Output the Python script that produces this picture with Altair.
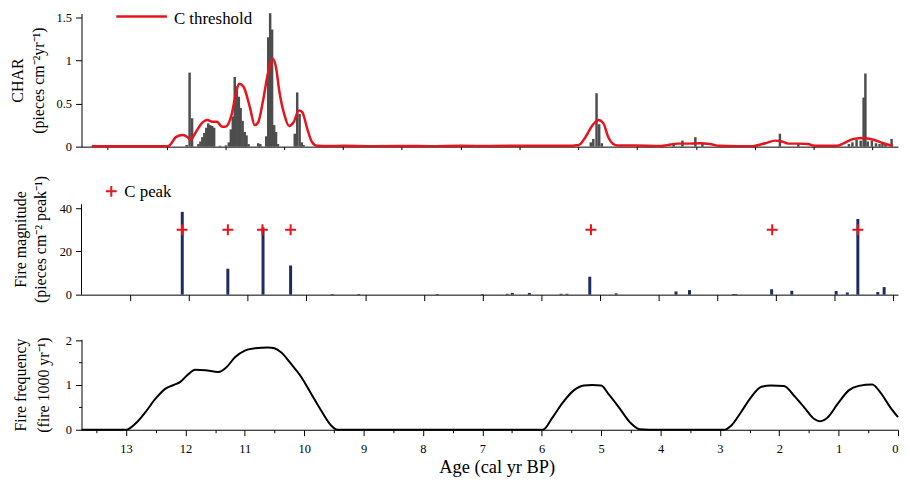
import altair as alt
import pandas as pd

FONT = "Liberation Serif"
RED = "#e6141c"
GRAY = "#4d4d4d"
NAVY = "#1d2b62"

# ---- top panel: CHAR (bars) and threshold (line) ----
char_age = [12.157, 12.107, 12.065, 11.957, 11.923, 11.89, 11.857, 11.823, 11.79, 11.756, 11.723, 11.69,
            11.59, 11.49, 11.44, 11.406, 11.373, 11.34, 11.306, 11.27, 11.24, 11.206, 11.17, 11.14, 11.105,
            10.94, 10.905, 10.805, 10.77, 10.738, 10.705, 10.67, 10.638, 10.605, 10.32, 10.278, 10.237, 10.2,
            10.17, 6.7, 6.21, 5.287, 5.245, 5.19, 5.145, 5.10, 3.88, 3.73, 3.51, 3.39, 2.073, 1.76, 0.9, 0.84,
            0.77, 0.7, 0.65, 0.62, 0.58, 0.51, 0.44, 0.38, 0.33, 0.28, 0.175]
char_val = [0.02, 0.86, 0.33, 0.03, 0.06, 0.11, 0.16, 0.22, 0.27, 0.25, 0.24, 0.22,
            0.01, 0.015, 0.05, 0.2, 0.35, 0.81, 0.70, 0.58, 0.45, 0.30, 0.17, 0.13, 0.03,
            0.04, 0.03, 0.12, 1.27, 1.55, 1.36, 0.25, 0.17, 0.03, 0.15, 0.63, 0.38, 0.05,
            0.02, 0.01, 0.012, 0.05, 0.09, 0.62, 0.26, 0.04, 0.03, 0.07, 0.11, 0.05, 0.15, 0.04, 0.03, 0.05,
            0.08, 0.07, 0.57, 0.85, 0.06, 0.07, 0.04, 0.03, 0.05, 0.03, 0.09]

thr_age = [13.77, 13.3, 12.9, 12.6, 12.474, 12.44, 12.34, 12.224, 12.14, 12.09, 12.0, 11.89, 11.806, 11.72,
           11.64, 11.556, 11.50, 11.39, 11.334, 11.267, 11.194, 11.083, 11.0, 10.943, 10.86, 10.776, 10.693,
           10.638, 10.583, 10.5, 10.416, 10.342, 10.249, 10.192, 10.108, 10.025, 9.94, 9.72, 9.5, 9.0, 8.5,
           8.0, 7.5, 7.0, 6.5, 6.0, 5.7, 5.49, 5.379, 5.267, 5.157, 5.073, 4.99, 4.907, 4.83, 4.544, 4.1,
           3.93, 3.82, 3.66, 3.43, 3.264, 3.1, 2.8, 2.54, 2.32, 2.152, 2.04, 1.93, 1.76, 1.595, 1.49, 1.094,
           0.983, 0.816, 0.65, 0.483, 0.316, 0.154]
thr_val = [0.005, 0.005, 0.005, 0.005, 0.006, 0.02, 0.11, 0.135, 0.11, 0.08, 0.17, 0.28, 0.31, 0.29,
           0.29, 0.23, 0.23, 0.38, 0.57, 0.73, 0.70, 0.46, 0.25, 0.28, 0.53, 0.85, 1.02,
           0.92, 0.65, 0.38, 0.24, 0.28, 0.42, 0.40, 0.21, 0.05, 0.01, 0.008, 0.01, 0.006, 0.008,
           0.006, 0.01, 0.008, 0.01, 0.01, 0.01, 0.02, 0.11, 0.24, 0.31, 0.27, 0.11, 0.03, 0.012, 0.012, 0.008,
           0.025, 0.035, 0.035, 0.04, 0.03, 0.01, 0.006, 0.006, 0.04, 0.07, 0.06, 0.035, 0.035, 0.03, 0.01, 0.01,
           0.04, 0.09, 0.10, 0.08, 0.04, 0.01]

# ---- middle panel: fire magnitude (bars) and peaks (+) ----
mag_age = [12.117, 11.34, 10.74, 10.27, 9.56, 9.11, 7.77, 7.0, 6.575, 6.49, 6.2, 5.66, 5.56, 5.17, 4.72,
           3.7, 3.47, 2.72, 2.68, 2.07, 1.726, 0.97, 0.78, 0.6, 0.26, 0.152]
mag_val = [38.3, 12.0, 31.1, 13.5, 0.3, 0.3, 0.3, 0.3, 0.4, 0.8, 0.8, 0.4, 0.4, 8.3, 0.6,
           1.5, 2.1, 0.3, 0.3, 2.5, 1.8, 1.7, 1.0, 35.0, 1.2, 3.5]
peak_age = [12.12, 11.34, 10.75, 10.27, 5.15, 2.06, 0.6]
peak_val = [30, 30, 30, 30, 30, 30, 30]

# ---- bottom panel: fire frequency ----
freq_age = [13.75, 13.3, 13.0, 12.84, 12.67, 12.5, 12.336, 12.2, 12.085, 11.975, 11.834, 11.667, 11.445,
            11.306, 11.166, 11.0, 10.83, 10.61, 10.5, 10.39, 10.22, 10.05, 9.885, 9.72, 9.55, 9.44, 9.0, 8.0,
            7.0, 6.3, 5.98, 5.82, 5.655, 5.46, 5.29, 5.15, 5.0, 4.87, 4.7, 4.51, 4.35, 4.2, 3.5, 2.92, 2.81,
            2.645, 2.48, 2.3, 2.14, 1.92, 1.75, 1.58, 1.41, 1.32, 1.19, 1.02, 0.83, 0.66, 0.435, 0.295, 0.13, 0.0]
freq_val = [0, 0, 0, 0.14, 0.4, 0.7, 0.92, 1.0, 1.07, 1.21, 1.34, 1.33, 1.29,
            1.4, 1.62, 1.77, 1.82, 1.84, 1.82, 1.73, 1.47, 1.18, 0.81, 0.44, 0.1, 0.0, 0, 0,
            0, 0, 0, 0.27, 0.59, 0.88, 0.99, 1.0, 0.99, 0.79, 0.5, 0.16, 0.01, 0, 0, 0, 0.09,
            0.39, 0.72, 0.96, 0.99, 0.98, 0.76, 0.5, 0.24, 0.19, 0.27, 0.57, 0.88, 0.98, 1.01, 0.83, 0.5, 0.28]

# ---- ticks ----
x_ticks = [13.5, 13.0, 12.5, 12.0, 11.5, 11.0, 10.5, 10.0, 9.5, 9.0, 8.5, 8.0, 7.5, 7.0, 6.5, 6.0,
           5.5, 5.0, 4.5, 4.0, 3.5, 3.0, 2.5, 2.0, 1.5, 1.0, 0.5, 0.0]
x_ticks_top = x_ticks[:-1]
y_ticks_char = [0, 0.25, 0.5, 0.75, 1.0, 1.25, 1.5]
y_ticks_mag = [0, 10, 20, 30, 40]
y_ticks_freq = [0, 0.5, 1.0, 1.5, 2.0]

char_df = pd.DataFrame({"age": char_age, "char": char_val})
thr_df = pd.DataFrame({"age": thr_age, "thr": thr_val})
mag_df = pd.DataFrame({"age": mag_age, "mag": mag_val})
peak_df = pd.DataFrame({"age": peak_age, "peak": peak_val})
freq_df = pd.DataFrame({"age": freq_age, "freq": freq_val})

W = 822


def tick_size(test):
    return {"condition": {"test": test, "value": 6}, "value": 3}


def x_axis(values, labels, title=None):
    kw = dict(values=values, labels=labels, grid=False, tickSize=tick_size("datum.value % 1 === 0"),
              domainColor="black", tickColor="black")
    if labels:
        kw.update(labelExpr="datum.value % 1 === 0 ? format(datum.value, 'd') : ''",
                  labelPadding=7, labelFontSize=12.5, labelFont=FONT, labelColor="black")
    if title:
        kw.update(title=title, titleFont=FONT, titleFontSize=18.5, titleFontWeight="normal",
                  titleColor="black", titleX=418, titleY=43, titleBaseline="alphabetic")
    else:
        kw.update(title=None)
    return alt.Axis(**kw)


def y_axis(values, major_test, title, tx, lh, ty=None, domain=True):
    kw = dict(values=values, grid=False, tickSize=tick_size(major_test), domain=domain,
              labelExpr=f"{major_test} ? toString(datum.value) : ''",
              labelFont=FONT, labelFontSize=12.5, labelColor="black", labelPadding=4,
              domainColor="black", tickColor="black",
              title=title, titleFont=FONT, titleFontSize=16, titleFontWeight="normal",
              titleColor="black", titleX=tx, titleLineHeight=lh, titleBaseline="alphabetic")
    if ty is not None:
        kw["titleY"] = ty
    return alt.Axis(**kw)


# ---- top chart ----
xs_top = alt.Scale(domain=[0.15, 13.86], reverse=True, nice=False, zero=False)
ys_top = alt.Scale(domain=[0, 1.546], nice=False)

bars_top = alt.Chart(char_df).mark_bar(size=2.5, color=GRAY, orient="vertical").encode(
    x=alt.X("age:Q", scale=xs_top, axis=x_axis(x_ticks_top, False)),
    y=alt.Y("char:Q", scale=ys_top,
            axis=y_axis(y_ticks_char, "(datum.value * 2) % 1 === 0",
                        ["CHAR", "(pieces cm⁻²yr⁻¹)"], -59, 20.5)),
)
line_top = alt.Chart(thr_df).mark_line(color=RED, strokeWidth=2.5, interpolate="monotone").encode(
    x=alt.X("age:Q", scale=xs_top),
    y=alt.Y("thr:Q", scale=ys_top),
)
leg1 = pd.DataFrame({"t": ["C threshold"]})
leg_line = alt.Chart(leg1).mark_rule(color=RED, strokeWidth=2.5).encode(
    x=alt.value(35), x2=alt.value(86), y=alt.value(3))
leg_text = alt.Chart(leg1).mark_text(align="left", baseline="alphabetic", fontSize=17, font=FONT,
                                     color="black").encode(x=alt.value(93), y=alt.value(10.3), text="t:N")
top = alt.layer(bars_top, line_top, leg_line, leg_text).properties(width=W, height=134)

# ---- middle chart ----
xs = alt.Scale(domain=[0, 13.75], reverse=True, nice=False, zero=False)
ys_mag = alt.Scale(domain=[0, 47.8], nice=False)

bars_mid = alt.Chart(mag_df).mark_bar(size=3, color=NAVY, orient="vertical").encode(
    x=alt.X("age:Q", scale=xs, axis=x_axis(x_ticks, False)),
    y=alt.Y("mag:Q", scale=ys_mag,
            axis=y_axis(y_ticks_mag, "datum.value % 20 === 0",
                        ["Fire magnitude", "(pieces cm⁻² peak⁻¹)"], -56.5, 20, ty=48, domain=False)),
)
plus_shape = "M-1,0L1,0M0,-1L0,1"
peaks_mid = alt.Chart(peak_df).mark_point(shape=plus_shape, size=121, stroke=RED, strokeWidth=2,
                                          filled=False, opacity=1).encode(
    x=alt.X("age:Q", scale=xs),
    y=alt.Y("peak:Q", scale=ys_mag),
)
axis_df = pd.DataFrame({"y0": [0], "y1": [41.8]})
yline_mid = alt.Chart(axis_df).mark_rule(color="black", strokeWidth=1).encode(
    x=alt.value(0), y=alt.Y("y0:Q", scale=ys_mag), y2="y1:Q")
leg2 = pd.DataFrame({"t": ["C peak"]})
leg2_plus = alt.Chart(leg2).mark_point(shape=plus_shape, size=121, stroke=RED, strokeWidth=2,
                                       filled=False, opacity=1).encode(x=alt.value(30), y=alt.value(0))
leg2_text = alt.Chart(leg2).mark_text(align="left", baseline="alphabetic", fontSize=17, font=FONT,
                                      color="black").encode(x=alt.value(43), y=alt.value(6), text="t:N")
mid = alt.layer(bars_mid, peaks_mid, yline_mid, leg2_plus, leg2_text).properties(width=W, height=104)

# ---- bottom chart ----
ys_freq = alt.Scale(domain=[0, 2.02], nice=False)
bot = alt.Chart(freq_df).mark_line(color="black", strokeWidth=2, interpolate="monotone").encode(
    x=alt.X("age:Q", scale=xs, axis=x_axis(x_ticks, True, "Age (cal yr BP)")),
    y=alt.Y("freq:Q", scale=ys_freq,
            axis=y_axis(y_ticks_freq, "datum.value % 1 === 0",
                        ["Fire frequency", "(fire 1000 yr⁻¹)"], -56.5, 23)),
).properties(width=W, height=91)

chart = alt.vconcat(top, mid, bot, spacing=45, bounds="flush").properties(
    padding={"left": 2, "top": 0, "right": -2, "bottom": -1}
).configure_view(stroke=None).configure_axis(grid=False).configure_text(font=FONT)

chart.save("out.html", embed_options={"renderer": "svg", "actions": False})
